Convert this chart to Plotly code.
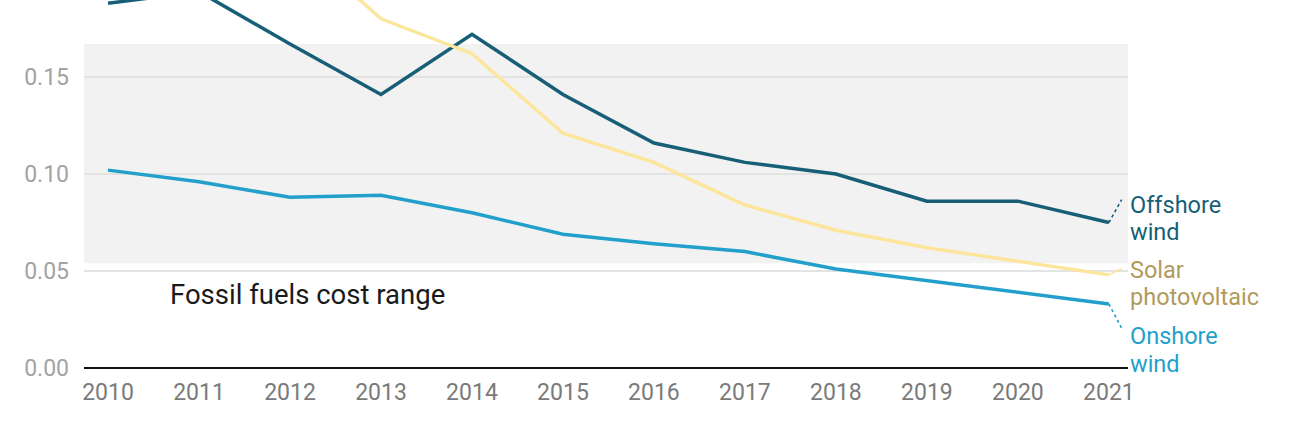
import plotly.graph_objects as go

years = list(range(2010, 2022))
offshore_wind = [0.188, 0.194, 0.167, 0.141, 0.172, 0.141, 0.116, 0.106, 0.100, 0.086, 0.086, 0.075]
solar_pv = [0.417, 0.311, 0.222, 0.180, 0.162, 0.121, 0.106, 0.084, 0.071, 0.062, 0.055, 0.048]
onshore_wind = [0.102, 0.096, 0.088, 0.089, 0.080, 0.069, 0.064, 0.060, 0.051, 0.045, 0.039, 0.033]
fossil_low, fossil_high = 0.054, 0.167
y_ticks = [0.0, 0.05, 0.10, 0.15]
y_tick_labels = ["0.00", "0.05", "0.10", "0.15"]

C_OFF = "#175e77"
C_SOLAR_LINE = "#fde59c"
C_SOLAR_TXT = "#b19a5c"
C_ON = "#22a0cb"
FONT = "Roboto"

fig = go.Figure()

fig.add_shape(type="rect", xref="paper", yref="y", x0=0, x1=1,
              y0=fossil_low, y1=fossil_high, fillcolor="#f2f2f2",
              line_width=0, layer="below")

series = [
    ("Offshore wind", offshore_wind, C_OFF, C_OFF, ["Offshore", "wind"], 0.0868, [0.0840, 0.0701], "dot"),
    ("Solar photovoltaic", solar_pv, C_SOLAR_LINE, C_SOLAR_TXT, ["Solar", "photovoltaic"], 0.0512, [0.0505, 0.0366], "solid"),
    ("Onshore wind", onshore_wind, C_ON, C_ON, ["Onshore", "wind"], 0.0205, [0.0165, 0.0021], "dot"),
]

for name, vals, lc, tc, lines, conn_y, line_ys, dash in series:
    fig.add_trace(go.Scatter(x=years, y=vals, mode="lines", name=name,
                             line=dict(color=lc, width=3.5), hoverinfo="skip"))
    fig.add_trace(go.Scatter(x=[years[-1], years[-1] + 0.14], y=[vals[-1], conn_y],
                             mode="lines", line=dict(color=lc, width=1.6, dash=dash),
                             hoverinfo="skip", showlegend=False))
    for txt, ly in zip(lines, line_ys):
        fig.add_annotation(x=1.0, y=ly, xref="paper", yref="y",
                           text=txt, showarrow=False, xanchor="left", yanchor="middle",
                           align="left", font=dict(family=FONT, size=23.5, color=tc))

fig.add_annotation(x=2010.66, y=0.038, xref="x", yref="y", text="Fossil fuels cost range",
                   showarrow=False, xanchor="left", yanchor="middle",
                   font=dict(family=FONT, size=27.5, color="#1a1a1a"))

fig.update_layout(
    width=1298, height=433,
    margin=dict(l=84, r=170, t=0, b=65),
    paper_bgcolor="white", plot_bgcolor="white",
    showlegend=False,
    font=dict(family=FONT),
    xaxis=dict(range=[2009.736, 2021.21], tickmode="array", tickvals=years,
               ticktext=[str(y) for y in years], showgrid=False, zeroline=False,
               showline=False, ticks="", ticklabelstandoff=8,
               tickfont=dict(size=23, color="#7a7a7a")),
    yaxis=dict(range=[0, 0.1897], tickmode="array", tickvals=y_ticks,
               ticktext=y_tick_labels, showgrid=True, gridcolor="#e3e3e3", gridwidth=2,
               zeroline=True, zerolinecolor="#111111", zerolinewidth=2,
               showline=False, ticks="", ticklabelstandoff=14,
               tickfont=dict(size=23, color="#a3a3a3")),
)

fig.write_html("out.html", config={"displayModeBar": False},
               post_script="document.body.style.margin='0';")
